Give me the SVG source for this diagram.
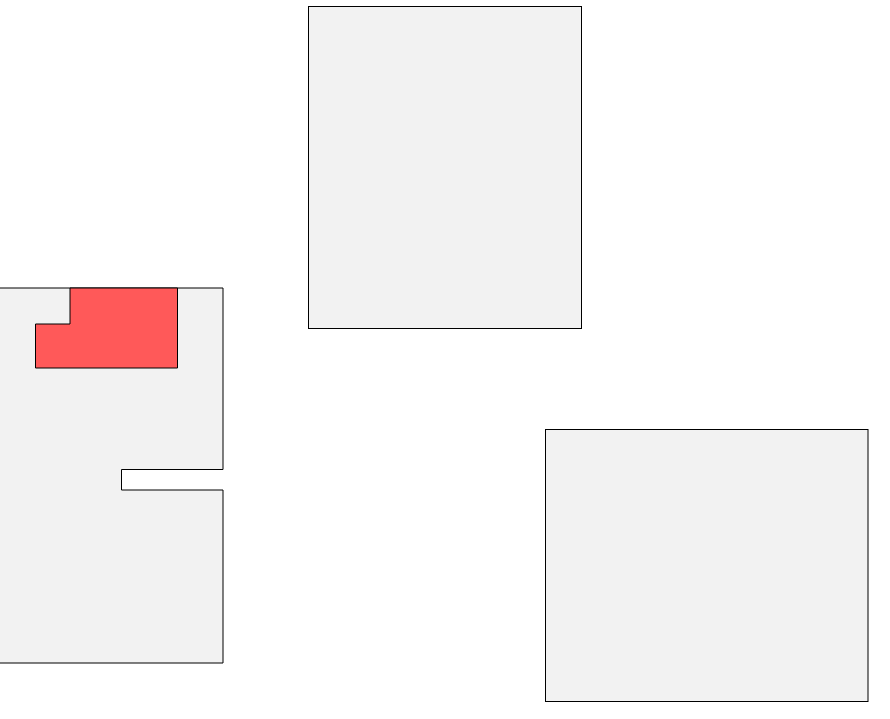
<svg xmlns="http://www.w3.org/2000/svg" width="890" height="719" viewBox="0 0 890 719">
<style>
.room{fill:#f2f2f2;stroke:#000;stroke-width:1}
.hl{fill:#ff5959;stroke:#000;stroke-width:1}
</style>
<rect width="890" height="719" fill="#fff"/>
<path class="room" d="M-10 288 H223 V469.5 H121.5 V490 H223 V663 H-10 Z"/>
<path class="hl" d="M70 288 H177.5 V368 H35.5 V324 H70 Z"/>
<rect class="room" x="308.5" y="6.5" width="273" height="322"/>
<rect class="room" x="545.5" y="429.5" width="322.5" height="272"/>
</svg>
